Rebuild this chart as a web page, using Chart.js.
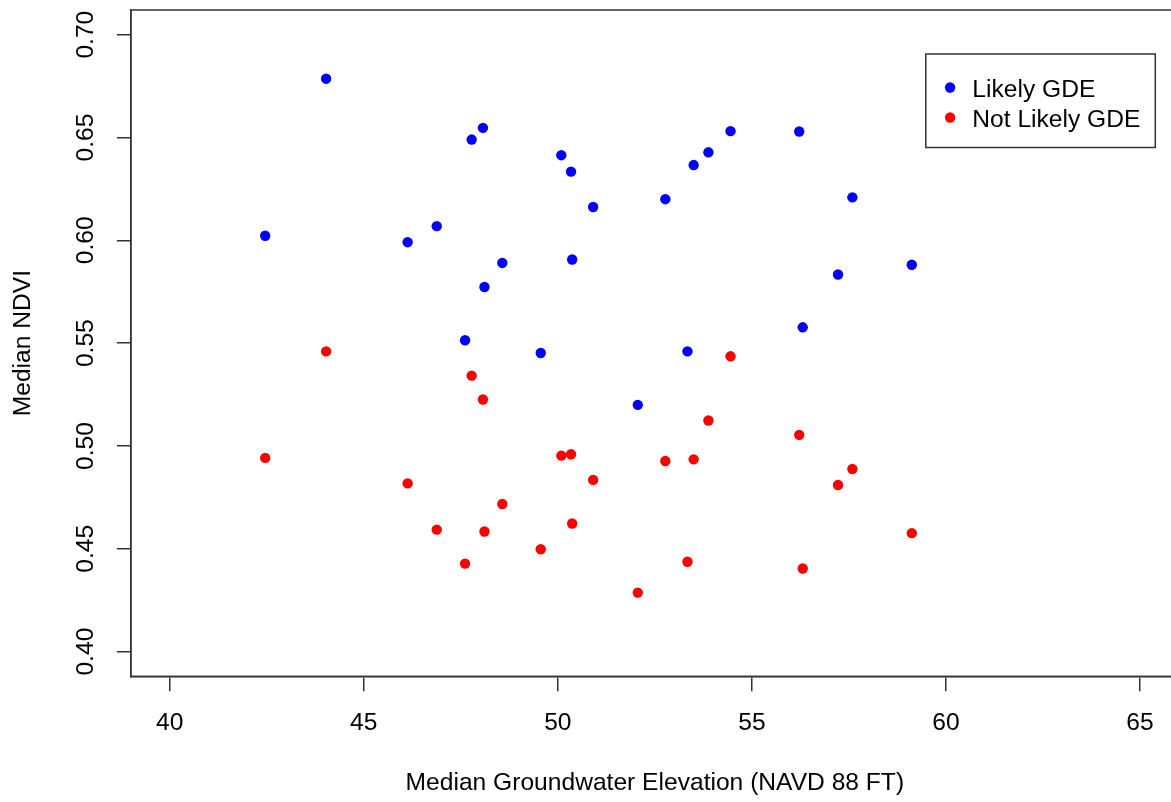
<!DOCTYPE html>
<html>
<head>
<meta charset="utf-8">
<script src="https://cdn.jsdelivr.net/npm/chart.js@4.4.1/dist/chart.umd.min.js"></script>
<style>
    html, body { margin: 0; padding: 0; background: #fff; overflow: hidden; }
    #wrap { width: 1184px; height: 802px; }
    canvas { display: block; }
</style>
</head>
<body>
<div id="wrap"><canvas id="chartCanvas" width="1184" height="802" style="width:1184px;height:802px"></canvas></div>
<script>
    // site values (same sites in both series)
    const elevation = [42.46, 44.03, 46.13, 46.88, 47.61, 47.78, 48.07, 48.11, 48.57, 49.56,
        50.09, 50.34, 50.37, 50.91, 52.06, 52.77, 53.34, 53.50, 53.88, 54.45,
        56.22, 56.31, 57.22, 57.59, 59.12]
    const likelyNdvi = [0.6022, 0.6786, 0.5991, 0.6069, 0.5514, 0.6490, 0.6547, 0.5773, 0.5890, 0.5452,
        0.6414, 0.6334, 0.5907, 0.6162, 0.5200, 0.6200, 0.5460, 0.6366, 0.6428, 0.6531,
        0.6529, 0.5577, 0.5834, 0.6209, 0.5881]
    const notLikelyNdvi = [0.4942, 0.5460, 0.4818, 0.4593, 0.4428, 0.5342, 0.5226, 0.4584, 0.4718, 0.4498,
        0.4953, 0.4960, 0.4623, 0.4835, 0.4287, 0.4927, 0.4437, 0.4935, 0.5124, 0.5436,
        0.5054, 0.4404, 0.4810, 0.4888, 0.4576]
    const seriesNames = ['Likely GDE', 'Not Likely GDE']
    const seriesColors = ['#0000FF', '#FF0000']
    const xTicks = [40, 45, 50, 55, 60, 65]
    const yTicks = ['0.40', '0.45', '0.50', '0.55', '0.60', '0.65', '0.70']

    const FONT = '"Liberation Sans", Arial, sans-serif'
    const FSIZE = 24.6
    const LINE = '#333'
    Chart.defaults.font.family = FONT
    Chart.defaults.font.size = FSIZE
    Chart.defaults.color = '#000'

    function toPoints(ys) {
        return elevation.map((x, i) => ({ x: x, y: ys[i] }))
    }

    // box around the plot, rotated y tick labels and the legend box
    const extras = {
        id: 'extras',
        afterDraw(chart) {
            const ctx = chart.ctx
            const a = chart.chartArea
            const ys = chart.scales.y
            ctx.save()
            ctx.strokeStyle = LINE
            ctx.lineWidth = 1.5
            ctx.strokeRect(a.left, a.top, a.right - a.left, a.bottom - a.top)

            ctx.fillStyle = '#000'
            ctx.font = FSIZE + 'px ' + FONT
            ctx.textAlign = 'center'
            ctx.textBaseline = 'alphabetic'
            yTicks.forEach(t => {
                const py = ys.getPixelForValue(parseFloat(t))
                ctx.save()
                ctx.translate(a.left - 38, py)
                ctx.rotate(-Math.PI / 2)
                ctx.fillText(t, 0, 0)
                ctx.restore()
            })

            // legend
            const lx = a.right - 253, ly = a.top + 44, lw = 229.5, lh = 93.5
            ctx.lineWidth = 1.5
            ctx.strokeRect(lx, ly, lw, lh)
            ctx.textAlign = 'left'
            seriesNames.forEach((name, i) => {
                const cy = ly + 33.5 + i * 30
                ctx.fillStyle = seriesColors[i]
                ctx.beginPath()
                ctx.arc(lx + 24.3, cy, 5.2, 0, Math.PI * 2)
                ctx.fill()
                ctx.fillStyle = '#000'
                ctx.fillText(name, lx + 46.5, cy + 9.2)
            })
            ctx.restore()
        }
    }

    const ctx = document.getElementById('chartCanvas')
    new Chart(ctx, {
        type: 'scatter',
        data: {
            datasets: [{
                label: seriesNames[0],
                data: toPoints(likelyNdvi),
                backgroundColor: seriesColors[0],
                pointRadius: 5.2,
                pointBorderWidth: 0,
            }, {
                label: seriesNames[1],
                data: toPoints(notLikelyNdvi),
                backgroundColor: seriesColors[1],
                pointRadius: 5.2,
                pointBorderWidth: 0,
            }]
        },
        options: {
            responsive: false,
            maintainAspectRatio: false,
            animation: false,
            devicePixelRatio: 1,
            events: [],
            layout: { padding: { top: 10, right: 1, left: 0, bottom: 0 } },
            plugins: {
                legend: { display: false },
                tooltip: { enabled: false }
            },
            scales: {
                x: {
                    type: 'linear',
                    min: 39,
                    max: 66,
                    afterBuildTicks: s => { s.ticks = xTicks.map(v => ({ value: v })) },
                    afterFit: s => {
                        s.height = 125.7
                        s.paddingLeft = 0
                        s.paddingRight = 0
                    },
                    grid: { drawOnChartArea: false, drawTicks: true, tickLength: 15, color: LINE, lineWidth: 1.5 },
                    border: { display: true, color: LINE, width: 1.5 },
                    ticks: { padding: 17, color: '#000', font: { size: FSIZE } },
                    title: {
                        display: true,
                        text: 'Median Groundwater Elevation (NAVD 88 FT)',
                        color: '#000',
                        font: { size: FSIZE },
                        padding: { top: 0, bottom: 4 }
                    }
                },
                y: {
                    type: 'linear',
                    min: 0.388,
                    max: 0.712,
                    afterBuildTicks: s => { s.ticks = yTicks.map(v => ({ value: parseFloat(v) })) },
                    afterFit: s => {
                        s.width = 130.9
                        s.paddingTop = 0
                        s.paddingBottom = 0
                    },
                    grid: { drawOnChartArea: false, drawTicks: true, tickLength: 14, color: LINE, lineWidth: 1.5 },
                    border: { display: true, color: LINE, width: 1.5 },
                    ticks: { display: false },
                    title: {
                        display: true,
                        text: 'Median NDVI',
                        color: '#000',
                        font: { size: FSIZE },
                        padding: { top: 8, bottom: 0 }
                    }
                }
            }
        },
        plugins: [extras]
    })
</script>
</body>
</html>
